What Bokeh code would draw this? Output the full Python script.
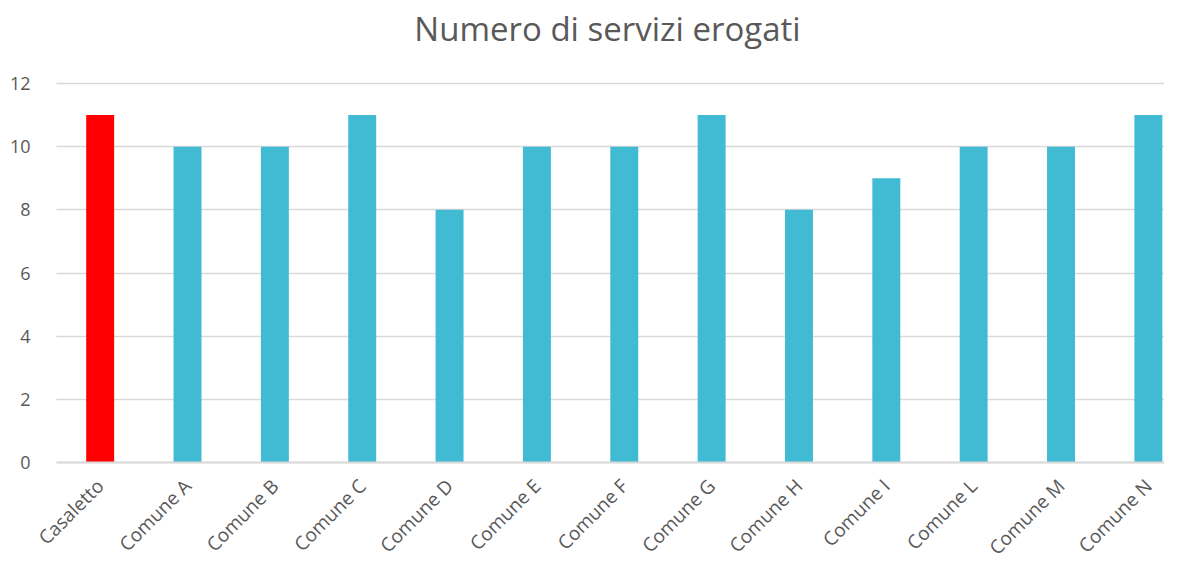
import math
from bokeh.plotting import figure
from bokeh.models import Range1d, FixedTicker, Grid, Label
from bokeh.embed import file_html
from bokeh.resources import INLINE

title_text = "Numero di servizi erogati"
categories = ["Casaletto", "Comune A", "Comune B", "Comune C", "Comune D", "Comune E",
              "Comune F", "Comune G", "Comune H", "Comune I", "Comune L", "Comune M", "Comune N"]
values = [11, 10, 10, 11, 8, 10, 10, 11, 8, 9, 10, 10, 11]
colors = ["#FF0000"] + ["#41BAD3"] * 12
y_ticks = [0, 2, 4, 6, 8, 10, 12]

FONT = "Open Sans"
TXT = "#595959"

xs = list(range(len(categories)))

W, H = 1164, 562
TOP = 83
LEFT = 56
PX_X = 87.35
PX_Y = 379 / 12.0
xmin = -0.5 - LEFT / PX_X
xmax = xmin + W / PX_X
ymin = -(H - TOP - 379) / PX_Y
ymax = 12 + TOP / PX_Y

p = figure(width=W, height=H, output_backend="svg", toolbar_location=None,
           x_range=Range1d(xmin, xmax), y_range=Range1d(ymin, ymax),
           min_border_left=0, min_border_right=0, min_border_top=0, min_border_bottom=0)

p.add_layout(Label(x=607, y=H - 28, x_units="screen", y_units="screen", text=title_text,
                   text_align="center", text_baseline="middle",
                   text_font=FONT, text_font_size="33px", text_color=TXT))

p.vbar(x=xs, top=values, width=0.32, fill_color=colors, line_color=None)

p.outline_line_color = None
p.xgrid.grid_line_color = None
p.ygrid.grid_line_color = "#D9D9D9"
p.ygrid.grid_line_width = 1.5
p.ygrid.ticker = FixedTicker(ticks=y_ticks)
if "cross_bounds" in Grid.properties():
    p.ygrid.cross_bounds = (-0.5, xmax)

p.yaxis.fixed_location = -0.5
p.yaxis.bounds = (0, 12)
p.yaxis.ticker = FixedTicker(ticks=y_ticks)
p.yaxis.axis_line_color = None
p.yaxis.major_tick_line_color = None
p.yaxis.minor_tick_line_color = None
p.yaxis.major_label_text_font = FONT
p.yaxis.major_label_text_font_size = "18px"
p.yaxis.major_label_text_color = TXT
p.yaxis.major_label_standoff = 20

p.xaxis.fixed_location = 0
p.xaxis.bounds = (-0.5, xmax)
p.xaxis.ticker = FixedTicker(ticks=xs)
p.xaxis.major_label_overrides = {i: c for i, c in enumerate(categories)}
p.xaxis.axis_line_color = "#D9D9D9"
p.xaxis.axis_line_width = 2
p.xaxis.major_tick_line_color = None
p.xaxis.minor_tick_line_color = None
p.xaxis.major_label_orientation = math.pi / 4
p.xaxis.major_label_text_font = FONT
p.xaxis.major_label_text_font_size = "19px"
p.xaxis.major_label_text_color = TXT
p.xaxis.major_label_standoff = 14

open("out.html", "w").write(file_html(p, INLINE))
